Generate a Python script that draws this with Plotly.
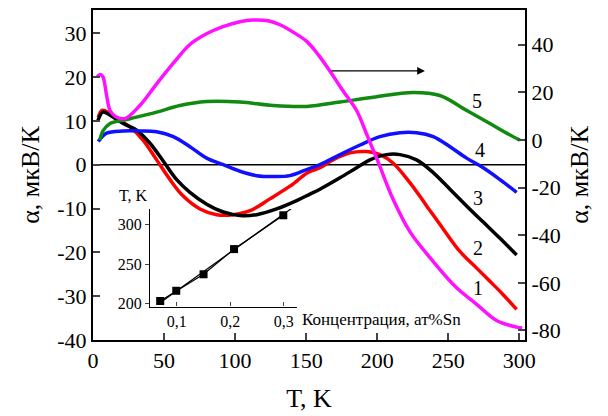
import plotly.graph_objects as go

# ---- main data (T in K) ----
T1 = [3, 5, 7, 9.5, 12, 16, 22.5, 33, 44.8, 57.7, 68.2, 80.2, 91.5, 103.4, 112.6, 123.1, 131.6,
      141.4, 150.4, 158.3, 166.7, 175.9, 185.5, 192.8, 200.5, 211.1, 223.0, 239.2, 255.9, 270,
      284, 298.1, 302]
A1 = [26.5, 27.5, 26.5, 19.0, 12.4, 9.8, 9.0, 14.5, 23.6, 33.1, 40.1, 44.7, 47.6, 49.7, 50.4, 50.1,
      48.4, 45.1, 41.4, 36.0, 29.0, 20.7, 12.4, 2.1, -9.0, -24.8, -38.5, -50.9, -62.1, -69.0,
      -75.8, -78.6, -79.0]  # right axis

T2 = [3.7, 6.3, 9.1, 15.5, 26, 35.2, 44.8, 54.2, 63.3, 75.3, 87, 98.5, 110.5, 124.5, 138.6, 151.3,
      159.7, 168.9, 180.8, 192.6, 201.9, 211.1, 223, 234.8, 246.3, 258.2, 270, 279.3, 288.5, 298.1]
A2 = [10.8, 12.4, 12.2, 10.8, 8.6, 5.6, 1.1, -3.4, -7.1, -10.1, -11.4, -11.4, -10.5, -7.8, -4.9, -1.8,
      -0.7, 1.1, 2.7, 3.0, 2.3, 0.4, -4.1, -9.4, -14.6, -19.8, -23.6, -26.6, -29.6, -33.0]

T3 = [3.5, 7.0, 12, 21.3, 30.7, 40.1, 49.5, 58.9, 68.2, 80, 91.7, 103.4, 115.2, 129.2, 143.3, 152.7,
      159.7, 173.8, 185.5, 194.9, 206.6, 216, 227.7, 239.4, 251.2, 262.9, 274.6, 286.4, 298.1]
A3 = [10.1, 12.0, 11.3, 9.4, 7.9, 4.9, 0.8, -3.4, -6.3, -9.0, -10.8, -11.6, -11.4, -10.1, -8.2, -6.7,
      -5.6, -3.0, -0.7, 1.1, 2.3, 2.3, 1.1, -1.8, -5.6, -9.4, -13.1, -16.8, -20.6]

T4 = [3.7, 9.6, 21.3, 33.1, 44.8, 56.5, 68.2, 80, 91.7, 103.4, 115.2, 126.9, 138.6, 150.4, 159.7,
      173.8, 187.9, 201.9, 216, 227.7, 239.4, 251.2, 262.9, 274.6, 286.4, 298.1]
A4 = [5.3, 7.2, 7.7, 7.7, 7.5, 6.4, 4.1, 1.5, 0.0, -1.5, -2.5, -2.7, -2.5, -1.1, 0.0,
      2.3, 4.5, 6.4, 7.3, 7.3, 6.4, 4.1, 1.5, -0.7, -3.4, -6.3]

T5 = [4.9, 7, 12, 26, 44.8, 61.2, 80, 103.4, 126.9, 150.4, 173.8, 197.2, 225.4, 244.1, 262.9, 279.3,
      291.1, 300.4]
A5 = [5.6, 7.7, 9.4, 10.5, 12.0, 13.5, 14.4, 14.3, 13.5, 13.3, 14.3, 15.4, 16.5, 15.8, 12.4, 9.4,
      7.2, 5.6]

curve_labels = ["1", "2", "3", "4", "5"]
label_T = [271, 271, 271, 272, 270]
label_A = [-28.1, -19.1, -7.5, 3.4, 14.6]

x_ticks = [0, 50, 100, 150, 200, 250, 300]
left_ticks = [-40, -30, -20, -10, 0, 10, 20, 30]
right_ticks = [-80, -60, -40, -20, 0, 20, 40]

# ---- inset data ----
conc = [0.069, 0.099, 0.150, 0.207, 0.299]
Tc = [203, 216, 237, 269, 312]
fit_c = [0.065, 0.315]
fit_T = [199, 321]
inset_ticks = [0.1, 0.2, 0.3]
inset_ticktext = ["0,1", "0,2", "0,3"]
inset_yticks = [200, 250, 300]

FONT = "Liberation Serif, Times New Roman, serif"
LW = 3.5

fig = go.Figure()
fig.add_trace(go.Scatter(x=T1, y=A1, mode="lines", line=dict(color="#ff10ff", width=LW, shape="spline"),
                         yaxis="y2", xaxis="x"))
fig.add_trace(go.Scatter(x=T2, y=A2, mode="lines", line=dict(color="#ff0000", width=LW, shape="spline")))
fig.add_trace(go.Scatter(x=T3, y=A3, mode="lines", line=dict(color="#000000", width=LW, shape="spline")))
fig.add_trace(go.Scatter(x=T4, y=A4, mode="lines", line=dict(color="#1010ff", width=LW, shape="spline")))
fig.add_trace(go.Scatter(x=T5, y=A5, mode="lines", line=dict(color="#108a10", width=LW, shape="spline")))

# inset
fig.add_trace(go.Scatter(x=fit_c, y=fit_T, mode="lines", line=dict(color="black", width=1.2),
                         xaxis="x3", yaxis="y3", cliponaxis=False))
fig.add_trace(go.Scatter(x=conc, y=Tc, mode="lines+markers", line=dict(color="black", width=1.2),
                         marker=dict(symbol="square", size=8, color="black"),
                         xaxis="x3", yaxis="y3", cliponaxis=False))

annotations = []
for t, a, s in zip(label_T, label_A, curve_labels):
    annotations.append(dict(x=t, y=a, xref="x", yref="y", text=s, showarrow=False,
                            font=dict(family=FONT, size=20, color="black")))
# arrow pointing to right axis
annotations.append(dict(x=233.6, y=21.4, ax=166.7, ay=21.4, xref="x", yref="y", axref="x", ayref="y",
                        text="", showarrow=True, arrowhead=2, arrowsize=1.2, arrowwidth=1.3,
                        arrowcolor="black"))
# inset labels
annotations.append(dict(x=0.0, y=1.03, xref="x3 domain", yref="y3 domain", text="T, K",
                        showarrow=False, xanchor="right", yanchor="bottom",
                        font=dict(family=FONT, size=16, color="black")))
annotations.append(dict(x=1.02, y=0.0, xref="x3 domain", yref="y3 domain", text="Концентрация, ат%Sn",
                        showarrow=False, xanchor="left", yanchor="top", yshift=-1,
                        font=dict(family=FONT, size=17, color="black")))

fig.update_layout(
    width=608, height=416,
    margin=dict(l=93, r=83, t=8, b=73),
    paper_bgcolor="white", plot_bgcolor="rgba(0,0,0,0)",
    showlegend=False,
    font=dict(family=FONT, size=22, color="black"),
    xaxis=dict(range=[0, 304], tickvals=x_ticks, ticktext=[str(v) for v in x_ticks],
               ticks="inside", ticklen=7,
               tickwidth=1.5, showline=True, linewidth=2, linecolor="black", mirror=True,
               showgrid=False, zeroline=False, title=dict(text="T, K", standoff=16),
               tickfont=dict(size=22)),
    yaxis=dict(range=[-40, 35.3], tickvals=left_ticks, ticktext=[str(v) for v in left_ticks],
               ticks="inside", ticklen=7,
               tickwidth=1.5, showline=True, linewidth=2, linecolor="black", showgrid=False,
               zeroline=False, title=dict(text="α, мкВ/К", standoff=10), tickfont=dict(size=22)),
    yaxis2=dict(range=[-84, 54.6], tickvals=right_ticks, ticktext=[str(v) for v in right_ticks],
                overlaying="y", side="right",
                ticks="inside", ticklen=7, tickwidth=1.5, showline=True, linewidth=2, linecolor="black",
                showgrid=False, zeroline=False, title=dict(text="α, мкВ/К", standoff=10),
                tickfont=dict(size=22)),
    xaxis3=dict(domain=[0.132, 0.4715], anchor="y3", range=[0.05, 0.324], tickvals=inset_ticks,
                ticktext=inset_ticktext, ticks="inside", ticklen=4, showline=True, linewidth=1.2,
                linecolor="black", showgrid=False, zeroline=False, tickfont=dict(size=16)),
    yaxis3=dict(domain=[0.1015, 0.397], anchor="x3", range=[196, 320], tickvals=inset_yticks,
                ticks="outside", ticklen=4, showline=True, linewidth=1.2, linecolor="black",
                showgrid=False, zeroline=False, tickfont=dict(size=16)),
    annotations=annotations,
    shapes=[dict(type="line", xref="x", yref="y", x0=0, x1=304, y0=0, y1=0,
                 line=dict(color="black", width=1.5), layer="below")],
)

fig.write_html("out.html")
